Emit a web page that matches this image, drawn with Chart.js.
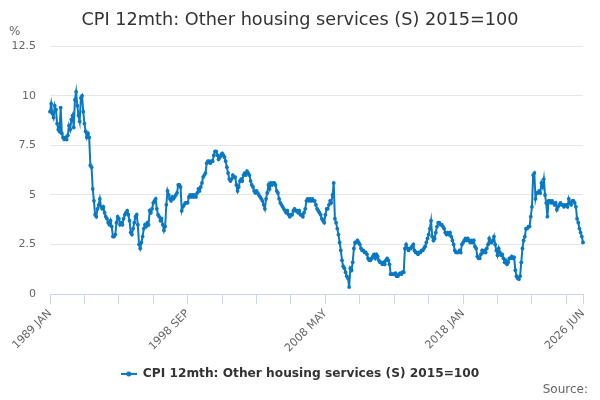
<!DOCTYPE html>
<html>
<head>
<meta charset="utf-8">
<script src="https://cdn.jsdelivr.net/npm/chart.js@4"></script>
<style>
body{margin:0;background:#fff}
#wrap{width:600px;height:400px}
</style>
</head>
<body>
<div id="wrap"><canvas id="chart"></canvas></div>
<script>
const monthNames = ["JAN","FEB","MAR","APR","MAY","JUN","JUL","AUG","SEP","OCT","NOV","DEC"]
const firstYear = 1989
const labelMonths = ["1989 JAN","1998 SEP","2008 MAY","2018 JAN","2026 JUN"]

// monthly 12-month rate, %, one row per year (1989 .. 2026 JUN)
const rate = [
9.2,9.6,9.1,8.9,9.5,9.3,8.6,8.3,8.2,9.4,8.1,7.9,
7.8,7.9,7.8,8.0,8.5,8.3,8.8,9.0,8.4,9.8,10.2,9.5,
9.0,8.7,9.9,10.0,9.2,8.6,8.2,7.9,8.1,7.9,6.5,6.4,
5.3,4.7,4.0,3.9,4.3,4.5,4.8,4.4,4.3,4.4,4.1,3.9,
3.8,3.6,3.5,3.7,3.4,2.9,2.9,3.0,3.6,3.9,3.8,3.5,
3.6,3.5,3.8,4.0,4.1,4.2,4.0,3.7,3.1,3.0,3.3,3.6,
3.9,4.0,3.5,2.5,2.3,2.6,2.9,3.3,3.5,3.4,3.6,3.5,
4.2,4.1,4.3,4.6,4.7,4.8,4.3,4.0,3.9,3.7,3.8,3.5,
3.2,3.4,4.5,5.2,5.0,4.8,4.7,4.9,4.8,4.9,5.0,5.1,
5.5,5.5,5.4,4.2,4.4,4.5,4.6,4.6,4.6,4.9,5.0,4.9,
5.0,4.9,5.0,4.9,5.1,5.3,5.2,5.4,5.6,5.9,6.0,6.1,
6.6,6.7,6.7,6.6,6.7,6.7,7.0,7.2,7.2,7.0,6.8,6.9,
7.0,7.1,7.0,6.9,6.7,6.4,6.1,5.8,5.7,5.8,6.0,5.9,
5.9,5.5,5.2,5.4,5.7,5.8,5.7,6.0,6.1,6.0,6.2,6.1,
6.0,5.7,5.5,5.4,5.2,5.1,5.2,5.1,5.0,4.9,4.8,4.7,
4.5,4.3,4.8,5.1,5.5,5.3,5.6,5.5,5.6,5.6,5.5,5.2,
5.1,4.8,4.6,4.5,4.4,4.3,4.2,4.1,4.2,4.0,3.9,4.0,
4.0,4.2,4.3,4.2,4.2,4.1,4.2,4.0,4.0,3.9,4.1,4.3,
4.7,4.8,4.7,4.8,4.7,4.8,4.7,4.7,4.5,4.3,4.2,4.1,
4.0,3.8,3.7,3.6,4.0,4.3,4.3,4.5,4.7,4.6,5.0,5.6,
3.8,3.6,3.3,3.0,2.6,2.2,1.7,1.4,1.3,1.1,0.9,0.8,
0.35,1.3,1.2,1.6,2.3,2.6,2.6,2.7,2.6,2.5,2.3,2.2,
2.2,2.1,2.1,2.0,1.8,1.7,1.7,1.8,1.9,2.0,1.8,2.0,
1.9,1.7,1.6,1.6,1.5,1.6,1.5,1.7,1.8,1.7,1.5,1.0,
1.0,1.0,1.0,1.05,0.9,0.9,1.0,1.05,1.0,1.1,1.1,2.3,
2.5,2.3,2.2,2.3,2.3,2.4,2.5,2.2,2.1,2.1,2.0,2.1,
2.1,2.2,2.2,2.3,2.4,2.6,2.8,3.0,3.3,3.7,2.9,2.7,
2.8,3.1,3.4,3.6,3.6,3.5,3.5,3.4,3.3,3.1,3.0,3.1,
3.0,3.1,2.9,2.7,2.5,2.2,2.1,2.1,2.1,2.2,2.1,2.5,
2.6,2.7,2.8,2.7,2.8,2.7,2.6,2.7,2.6,2.7,2.4,2.3,
1.9,1.8,1.8,2.0,2.2,2.1,2.2,2.1,2.3,2.5,2.8,2.6,
2.6,2.7,2.9,2.5,2.2,1.95,2.3,2.1,1.95,2.0,1.8,1.6,
1.7,1.5,1.6,1.8,1.8,1.9,1.8,1.85,1.2,0.9,0.8,0.75,
0.9,1.6,2.3,2.7,2.9,3.3,3.3,3.4,3.4,3.9,4.4,6.0,
6.1,4.8,5.1,5.1,5.2,5.1,5.6,5.4,5.8,5.0,4.6,3.9,
4.7,4.7,4.6,4.7,4.6,4.5,4.6,4.25,4.4,4.5,4.6,4.5,
4.5,4.4,4.5,4.5,4.4,4.8,4.6,4.5,4.7,4.7,4.6,4.4,
3.8,3.6,3.3,3.1,2.9,2.6
]

const months = rate.map((v,i)=>{
return (firstYear + Math.floor(i/12)) + " " + monthNames[i%12]
})

const yTicks = [0,2.5,5,7.5,10,12.5]
const lineColor = "#0a78c2"

// legend symbol: short line with a dot in the middle
const legendMark = document.createElement("canvas")
legendMark.width = 16
legendMark.height = 6
const lm = legendMark.getContext("2d")
lm.fillStyle = lineColor
lm.fillRect(0,2,16,2)
lm.beginPath()
lm.arc(8,3,2.5,0,Math.PI*2)
lm.fill()

// "%" above the y axis and the "Source:" credit bottom right
const extraText = {
id:"extraText",
afterDraw(chart){
const ctx = chart.ctx
const y = chart.scales.y
ctx.save()
ctx.font = "12px 'DejaVu Sans'"
ctx.fillStyle = "#666"
ctx.textBaseline = "middle"
ctx.fillText("%", 9, y.top - 14)
ctx.textAlign = "right"
ctx.fillText("Source:", 588, 390)
ctx.restore()
}
}

new Chart(document.getElementById("chart"),{
type:"line",
data:{
labels:months,
datasets:[{
label:"CPI 12mth: Other housing services (S) 2015=100",
data:rate,
borderColor:lineColor,
backgroundColor:lineColor,
borderWidth:2,
pointRadius:1.9,
pointBorderWidth:0,
tension:0
}]
},
options:{
responsive:true,
maintainAspectRatio:false,
animation:false,
layout:{padding:{left:0,right:0,top:0,bottom:10}},
plugins:{
title:{
display:true,
text:"CPI 12mth: Other housing services (S) 2015=100",
color:"#333",
font:{family:"'DejaVu Sans'",size:17.7,weight:"normal"},
padding:{top:10,bottom:15}
},
legend:{
position:"bottom",
labels:{
color:"#333",
font:{family:"'DejaVu Sans'",size:12.2,weight:"bold"},
usePointStyle:true,
pointStyle:legendMark,
pointStyleWidth:16,
padding:5
}
},
tooltip:{enabled:false}
},
scales:{
x:{
grid:{display:true,drawOnChartArea:false,drawTicks:true,tickLength:10,color:"#ccd6eb"},
border:{color:"#ccd6eb"},
afterBuildTicks(scale){
scale.ticks = scale.ticks.filter(t => t.value % 29 === 0 || t.value === rate.length-1)
},
afterFit(scale){
scale.height += 5
},
ticks:{
autoSkip:false,
maxRotation:45,
minRotation:45,
color:"#666",
font:{family:"'DejaVu Sans'",size:11},
callback(value){
const lab = this.getLabelForValue(value)
return labelMonths.includes(lab) ? lab : ""
}
}
},
y:{
min:0,
max:12.5,
afterBuildTicks(scale){
scale.ticks = yTicks.map(v=>({value:v}))
},
afterFit(scale){
scale.width = 50
},
grid:{color:"#e6e6e6",drawTicks:false},
border:{display:false},
ticks:{
color:"#666",
padding:14,
font:{family:"'DejaVu Sans'",size:11},
callback(v){ return String(v) }
}
},
// empty right margin so title and legend centre on the full width
yRight:{
position:"right",
grid:{display:false},
border:{display:false},
ticks:{display:false},
afterFit(scale){
scale.width = 17
}
}
}
},
plugins:[extraText]
})
</script>
</body>
</html>
